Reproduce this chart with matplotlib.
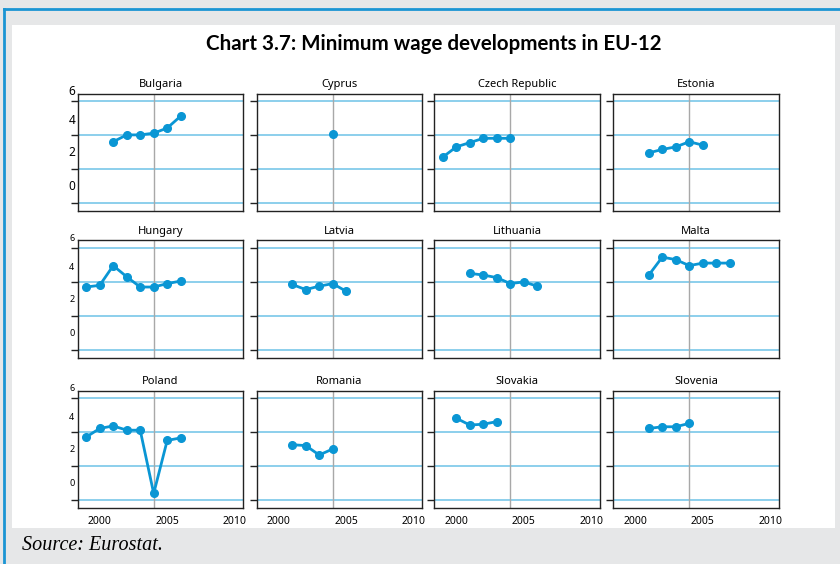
import matplotlib.pyplot as plt
from matplotlib.patches import Rectangle
from matplotlib.lines import Line2D

# data (year, value)
countries = ["Bulgaria", "Cyprus", "Czech Republic", "Estonia",
             "Hungary", "Latvia", "Lithuania", "Malta",
             "Poland", "Romania", "Slovakia", "Slovenia"]

bulgaria_years = [2001, 2002, 2003, 2004, 2005, 2006]
bulgaria = [2.6, 3.0, 3.0, 3.1, 3.4, 4.1]
cyprus_years = [2004]
cyprus = [3.05]
czech_years = [1999, 2000, 2001, 2002, 2003, 2004]
czech = [1.7, 2.3, 2.55, 2.8, 2.8, 2.8]
estonia_years = [2001, 2002, 2003, 2004, 2005]
estonia = [1.95, 2.15, 2.3, 2.6, 2.4]
hungary_years = [1999, 2000, 2001, 2002, 2003, 2004, 2005, 2006]
hungary = [2.7, 2.8, 3.95, 3.3, 2.7, 2.7, 2.9, 3.05]
latvia_years = [2001, 2002, 2003, 2004, 2005]
latvia = [2.85, 2.55, 2.75, 2.9, 2.45]
lithuania_years = [2001, 2002, 2003, 2004, 2005, 2006]
lithuania = [3.5, 3.4, 3.25, 2.9, 3.0, 2.75]
malta_years = [2001, 2002, 2003, 2004, 2005, 2006, 2007]
malta = [3.4, 4.45, 4.3, 3.95, 4.1, 4.1, 4.1]
poland_years = [1999, 2000, 2001, 2002, 2003, 2004, 2005, 2006]
poland = [2.7, 3.2, 3.35, 3.1, 3.1, -0.6, 2.5, 2.65]
romania_years = [2001, 2002, 2003, 2004]
romania = [2.25, 2.2, 1.65, 2.0]
slovakia_years = [2000, 2001, 2002, 2003]
slovakia = [3.8, 3.4, 3.45, 3.6]
slovenia_years = [2001, 2002, 2003, 2004]
slovenia = [3.2, 3.3, 3.3, 3.5]

series = [(bulgaria_years, bulgaria), (cyprus_years, cyprus), (czech_years, czech),
          (estonia_years, estonia), (hungary_years, hungary), (latvia_years, latvia),
          (lithuania_years, lithuania), (malta_years, malta), (poland_years, poland),
          (romania_years, romania), (slovakia_years, slovakia), (slovenia_years, slovenia)]

grid_vals = [5, 3, 1, -1]
ylabel_vals = [5.55, 3.87, 1.97, 0.0]
ylabel_text = ["6", "4", "2", "0"]
xtick_vals = [2000, 2005, 2010]

W, H = 840, 564
blue = "#0a96d4"
fig = plt.figure(figsize=(W / 100, H / 100), dpi=100, facecolor="#e6e7e8")

def fx(px):
    return px / W

def fy(py):
    return 1 - py / H

# white panel and blue frame
fig.add_artist(Rectangle((fx(12), fy(528)), fx(835) - fx(12), fy(25) - fy(528),
                         transform=fig.transFigure, facecolor="white", edgecolor="none", zorder=0))
fig.add_artist(Line2D([fx(4), fx(840)], [fy(9), fy(9)], transform=fig.transFigure,
                      color="#1b95d3", lw=2))
fig.add_artist(Line2D([fx(4), fx(4)], [fy(9), fy(564)], transform=fig.transFigure,
                      color="#1b95d3", lw=2))

fig.text(fx(434), fy(44), "Chart 3.7: Minimum wage developments in EU-12",
         ha="center", va="center", fontsize=14.8, fontweight="bold", family="Lato")
fig.text(fx(22), fy(545), "Source: Eurostat.", ha="left", va="center",
         fontsize=14.5, style="italic", family=["Liberation Serif", "DejaVu Serif"])

lefts = [77.7, 256.7, 434.3, 613.3]
tops = [93.5, 240.5, 390.5]
aw, ah = 165.5, 117

for i, name in enumerate(countries):
    r, c = divmod(i, 4)
    x0, y0 = lefts[c], tops[r]
    ax = fig.add_axes([fx(x0), fy(y0 + ah), fx(aw), ah / H])
    ax.set_xlim(1998.37, 2010.63)
    ax.set_ylim(-1.42, 5.42)
    for g in grid_vals:
        ax.axhline(g, color="#8ccfec", lw=1.4, zorder=1)
    ax.axvline(2004, color="#a8a8a8", lw=1, zorder=1)
    yrs, vals = series[i]
    ax.plot(yrs, vals, color=blue, lw=2, marker="o", ms=5.5, zorder=3)
    for s in ax.spines.values():
        s.set_linewidth(1)
        s.set_color("#222222")
    ax.set_yticks(grid_vals)
    ax.set_yticklabels([])
    ax.tick_params(axis="y", direction="out", length=5, width=1, color="#222222")
    ax.set_xticks(xtick_vals)
    ax.tick_params(axis="x", length=0, pad=6, labelsize=7.5)
    if r < 2:
        ax.set_xticklabels([])
    else:
        ax.set_xticklabels([str(v) for v in xtick_vals], family="Noto Sans")
    if c == 0:
        fs = 8.5 if r == 0 else 6.5
        for v, t in zip(ylabel_vals, ylabel_text):
            ax.text(-0.035, v, t, transform=ax.get_yaxis_transform(), ha="center",
                    va="center", fontsize=fs, family="Noto Sans", clip_on=False)
    ax.text(0.5, 1 + 9 / ah, name, transform=ax.transAxes, ha="center", va="center",
            fontsize=8, family="Noto Sans")

fig.savefig("out.png", dpi=100, facecolor=fig.get_facecolor())
